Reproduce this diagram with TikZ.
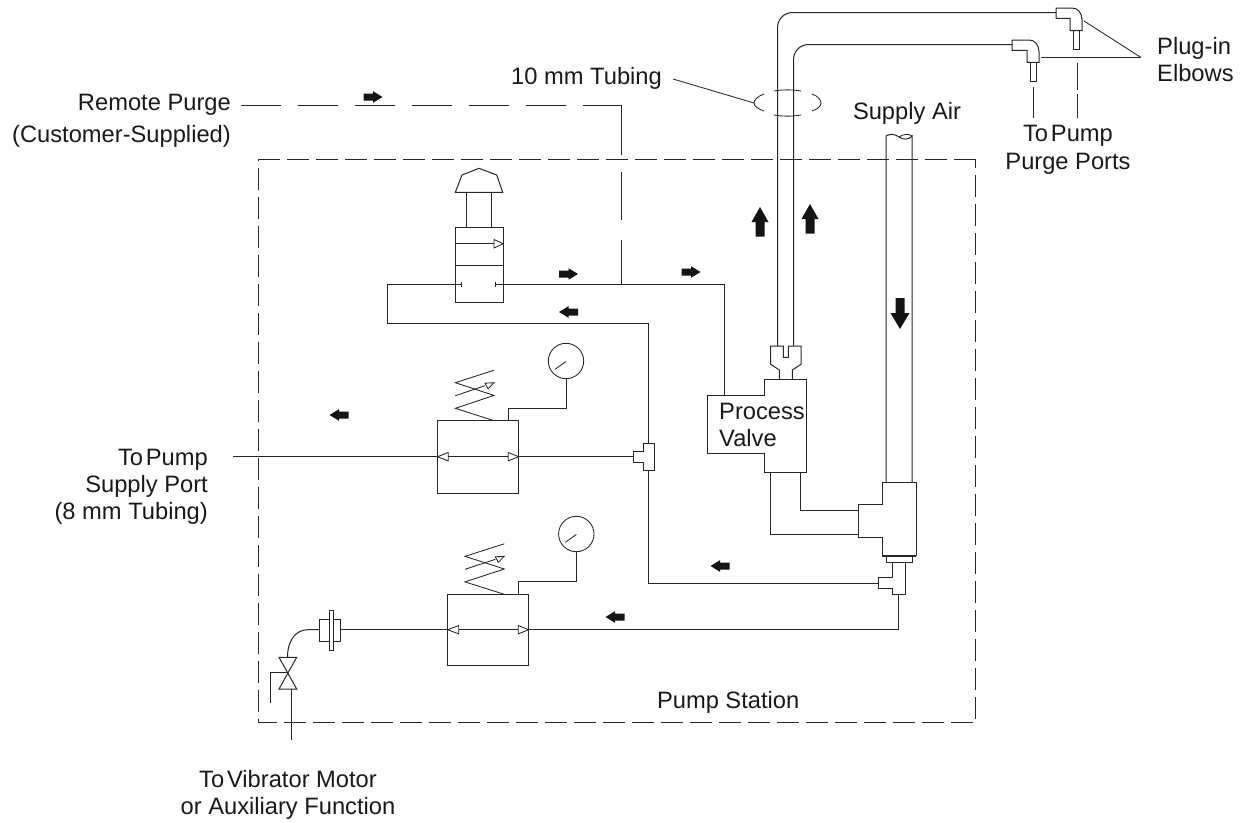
\documentclass[tikz,border=0pt]{standalone}
\usepackage{fontspec}
\setmainfont{Liberation Sans}
\tikzset{
  x=1pt,y=-1pt,
  pipe/.style={draw=black!85,line width=1pt,line join=miter},
  thinp/.style={draw=black!85,line width=0.85pt},
  boxdash/.style={draw=black!85,line width=1pt,dash pattern=on 22pt off 7pt},
  lbl/.style={font=\fontsize{23.7}{27}\selectfont,text=black!90,inner sep=0pt,align=center},
  flow/.style={fill=black!92,draw=none},
  opentip/.style={draw=black!85,line width=0.85pt,fill=white},
}
\newcommand{\arR}[2]{\fill[flow] (#1-9.5,#2-3.5) -- (#1,#2-3.5) -- (#1,#2-5.8) -- (#1+9.5,#2) -- (#1,#2+5.8) -- (#1,#2+3.5) -- (#1-9.5,#2+3.5) -- cycle;}
\newcommand{\arL}[2]{\fill[flow] (#1+9.5,#2-3.5) -- (#1,#2-3.5) -- (#1,#2-5.8) -- (#1-9.5,#2) -- (#1,#2+5.8) -- (#1,#2+3.5) -- (#1+9.5,#2+3.5) -- cycle;}
\newcommand{\arU}[2]{\fill[flow] (#1-4.5,#2+14.5) -- (#1-4.5,#2) -- (#1-8.5,#2) -- (#1,#2-15) -- (#1+8.5,#2) -- (#1+4.5,#2) -- (#1+4.5,#2+14.5) -- cycle;}
\newcommand{\arD}[2]{\fill[flow] (#1-4.5,#2-15) -- (#1-4.5,#2) -- (#1-9.5,#2) -- (#1,#2+16) -- (#1+9.5,#2) -- (#1+4.5,#2) -- (#1+4.5,#2-15) -- cycle;}
% regulator: #1 box left, #2 box right, #3 top, #4 bottom, #5 flow y, #6 spring left, #7 spring right, #8 gauge x, #9 gauge y
\newcommand{\regulator}[9]{
  \draw[pipe] (#1,#3) rectangle (#2,#4);
  \draw[opentip] (#1,#5) -- (#1+11,#5-4.2) -- (#1+11,#5+4.2) -- cycle;
  \draw[opentip] (#2,#5) -- (#2-10.5,#5-4.2) -- (#2-10.5,#5+4.2) -- cycle;
  \draw[pipe] (#1+11,#5) -- (#2-10.5,#5);
  \draw[thinp] (#7,#3-50.5) -- (#6,#3-38) -- (#7,#3-25.3) -- (#6,#3-12.4) -- (#7,#3);
  \draw[thinp] (#6,#3-25) -- (#7-9,#3-35);
  \draw[opentip] (#7,#3-38) -- (#7-9,#3-37.5) -- (#7-6,#3-32) -- cycle;
  \draw[thinp,fill=white] (#8,#9) circle[radius=17.7];
  \draw[thinp] (#8-11,#9+8.3) -- (#8,#9+0.5);
  \draw[pipe] (#8,#9+17.7) -- (#8,#3-12.4) -- (#7+14,#3-12.4) -- (#7+14,#3);
}
\begin{document}
\begin{tikzpicture}
\useasboundingbox (0,0) rectangle (1244,822);
% station box
\draw[boxdash] (975.5,159.5) -- (258.5,159.5) -- (258.5,722.5) -- (975.5,722.5) -- cycle;
% remote purge
\node[lbl,align=right,anchor=east] (rp) at (231,121) {Remote Purge\\[5pt](Customer-Supplied)};
\coordinate (rpa) at (241,105.5);
\coordinate (rpb) at (621.5,105.5);
\draw[pipe,dash pattern=on 39.5pt off 17.5pt] (rpa) -- (rpb);
\draw[pipe] (621.5,105.5) -- (621.5,155) (621.5,172) -- (621.5,220) (621.5,240) -- (621.5,284.7);
\arR{373}{97}
% upper tubing
\draw[pipe] (777.5,346) -- (777.5,28) .. controls (777.5,19) and (784,12.5) .. (793,12.5) -- (1056,12.5);
\draw[pipe] (793.5,346) -- (793.5,60) .. controls (793.5,51) and (800,44.5) .. (809,44.5) -- (1012,44.5);
% plug-in elbows
\draw[pipe] (1012,40) -- (1029,40) .. controls (1035,40) and (1039,45) .. (1039,52) -- (1039,62.3) -- (1027,62.3) -- (1027,50.3) -- (1012,50.3) -- cycle;
\draw[pipe] (1030,62.3) -- (1030,81) -- (1036,81) -- (1036,62.3);
\draw[pipe] (1056,8) -- (1072,8) .. controls (1078,8) and (1082,13) .. (1082,20) -- (1082,30.5) -- (1070,30.5) -- (1070,18.3) -- (1056,18.3) -- cycle;
\draw[pipe] (1073,30.5) -- (1073,49) -- (1079,49) -- (1079,30.5);
\coordinate (apex) at (1141,57.5);
\draw[thinp] (1041,57.5) -- (apex);
\draw[thinp] (1084,21) -- (apex);
\draw[pipe] (1033.5,87) -- (1033.5,118) (1077.5,63) -- (1077.5,90) (1077.5,94) -- (1077.5,118);
\node[lbl,align=left,anchor=west] (pe) at (1157,59.5) {Plug-in\\Elbows};
\node[lbl] (tp) at (1068,150) {To\hspace{0.12em}Pump\\[1pt]Purge Ports};
% 10 mm
\node[lbl,anchor=east] (tm) at (662,78) {10 mm Tubing};
\coordinate (elL) at (754,103);
\draw[thinp] (673,79) -- (elL);
\draw[thinp] (764,94) .. controls (758,96) and (754,100) .. (elL) .. controls (754,106) and (758,109) .. (764,111);
\draw[thinp] (774,91) .. controls (782,89.5) and (793,89.5) .. (801,91);
\draw[thinp] (774,115) .. controls (782,116.5) and (793,116.5) .. (801,115);
\draw[thinp] (812,94) .. controls (818,96) and (821,100) .. (821,103) .. controls (821,106) and (818,109) .. (812,111);
% supply air
\node[lbl] (sa) at (907,113) {Supply Air};
\draw[pipe] (886,482.3) -- (886,136) .. controls (890,133.5) and (895,134) .. (899,137) .. controls (903,140) and (909,140) .. (912,136) -- (912,482.3);
\draw[thinp] (899,137) .. controls (903,134) and (909,133.5) .. (912,136);
\arD{900}{313}
\arU{760}{222}
\arU{810}{219}
% three-way valve
\draw[pipe] (455.3,192.3) -- (462,175) -- (479,168.3) -- (496.7,175) -- (502.7,192.3) -- cycle;
\draw[pipe] (466.7,192.3) -- (466.7,227.7) (491.5,192.3) -- (491.5,227.7);
\draw[pipe] (455,227.7) rectangle (503.3,302.7);
\draw[pipe] (455,265.7) -- (503.3,265.7);
\draw[opentip] (503.3,243.7) -- (494,239.5) -- (494,248) -- cycle;
\draw[pipe] (455,243.7) -- (494,243.7);
\draw[pipe] (461,282.2) -- (461,287.2) (495.7,282.2) -- (495.7,287.2);
\coordinate (vl) at (461,284.7);
\coordinate (vr) at (495.7,284.7);
\draw[pipe] (vl) -- (387.7,284.7) -- (387.7,323.7) -- (648.7,323.7) -- (648.7,443.7);
\draw[pipe] (vr) -- (724,284.7) -- (724,395.3);
\arR{568.5}{274}
\arL{568.5}{312}
\arR{691}{272}
% process valve
\draw[pipe] (792.3,379) -- (792.3,370) -- (801,364.3) -- (801,346) -- (788.3,346) -- (788.3,357.3) -- (783.3,357.3) -- (783.3,346) -- (770.7,346) -- (770.7,364.3) -- (779.3,370) -- (779.3,379);
\draw[pipe] (764.3,379) -- (806.7,379) -- (806.7,472.3) -- (764.3,472.3) -- (764.3,453) -- (707.7,453) -- (707.7,395.3) -- (764.3,395.3) -- cycle;
\node[lbl,align=left,anchor=west] (pv) at (719,425) {Process\\Valve};
% process valve to tee
\draw[pipe] (770.7,472.3) -- (770.7,534.7) -- (858.3,534.7);
\draw[pipe] (800.7,472.3) -- (800.7,510.7) -- (858.3,510.7);
\draw[pipe] (882.3,482.3) -- (916,482.3) -- (916,555.7) -- (882.3,555.7) -- (882.3,537.3) -- (858.3,537.3) -- (858.3,504.3) -- (882.3,504.3) -- cycle;
\draw[pipe,line width=1.5pt] (882.3,556) -- (916,556);
\draw[pipe] (886,556) -- (886,562.3) -- (912.3,562.3) -- (912.3,556);
\draw[pipe] (892.3,562.3) -- (892.3,577.3) -- (878.7,577.3) -- (878.7,588.3) -- (892.3,588.3) -- (892.3,594) -- (905.3,594) -- (905.3,562.3);
\draw[pipe] (878.7,583) -- (648.7,583) -- (648.7,470);
\arL{720}{566}
% tee
\draw[pipe] (633.3,451.7) -- (643.7,451.7) -- (643.7,443.7) -- (654.3,443.7) -- (654.3,470) -- (643.7,470) -- (643.7,462.3) -- (633.3,462.3) -- cycle;
% regulators
\regulator{437.3}{518.7}{420.7}{493.3}{456.7}{455.3}{494}{566}{361}
\regulator{447.7}{528.7}{594.3}{665.3}{629.7}{465}{504.3}{576.3}{534}
\draw[pipe] (518.7,456.7) -- (633.3,456.7);
\coordinate (sup) at (232.7,456.7);
\draw[pipe] (437.3,456.7) -- (sup);
\arL{339}{415}
\arL{615}{617}
\draw[pipe] (528.7,629.7) -- (898.7,629.7) -- (898.7,594);
\node[lbl,align=right,anchor=east] (tps) at (208,486.5) {To\hspace{0.12em}Pump\\Supply Port\\(8 mm Tubing)};
% coupling and needle valve
\draw[pipe] (319,619.3) rectangle (340.7,641.7);
\draw[pipe,fill=white] (329.3,610.7) rectangle (333.3,650);
\draw[pipe] (340.7,629.7) -- (447.7,629.7);
\draw[pipe] (319,629.7) -- (308,629.7) .. controls (296,629.7) and (287.5,640) .. (287.5,657.3);
\draw[pipe] (279,657.3) -- (296.7,657.3) -- (279,689) -- (296.7,689) -- cycle;
\draw[pipe] (287.7,672.3) -- (270.7,672.3) -- (270.7,703.3);
\draw[pipe] (291.7,689) -- (291.7,740);
\node[lbl] (vib) at (288,795) {To\hspace{0.12em}Vibrator Motor\\or Auxiliary Function};
\node[lbl,anchor=east] (ps) at (799.5,702) {Pump Station};
\end{tikzpicture}
\end{document}
